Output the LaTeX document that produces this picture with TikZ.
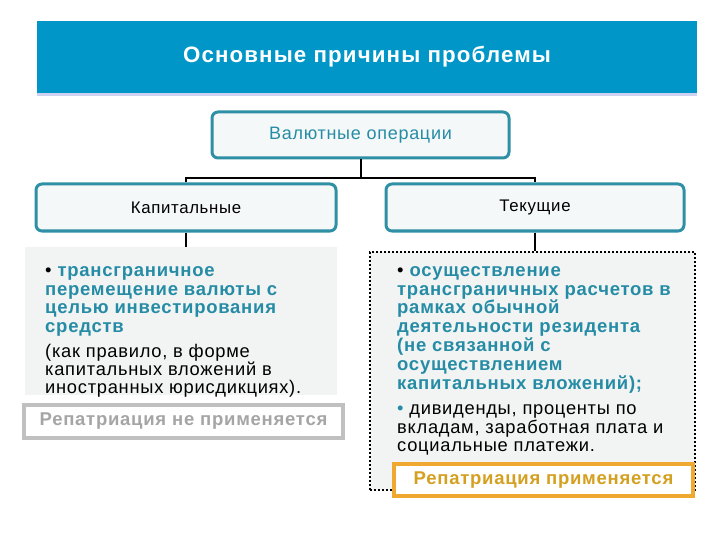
\documentclass[tikz,border=0pt]{standalone}
\usepackage{fontspec}
\setmainfont{Liberation Sans}
\newfontfamily\wide[LetterSpace=4]{Liberation Sans}
\newfontfamily\ttl[LetterSpace=5]{Liberation Sans}
\usetikzlibrary{positioning}
\definecolor{titleblue}{RGB}{0,150,200}
\definecolor{tealtxt}{RGB}{38,140,165}
\definecolor{tealborder}{RGB}{46,143,165}
\definecolor{boxfill}{RGB}{245,248,248}
\definecolor{graybg}{RGB}{242,244,244}
\definecolor{grayborder}{RGB}{192,192,192}
\definecolor{graytxt}{RGB}{165,165,165}
\definecolor{orangeborder}{RGB}{240,168,48}
\definecolor{goldtxt}{RGB}{212,160,32}
\tikzset{
  catbox/.style={draw=tealborder, line width=3pt, rounded corners=6pt, fill=boxfill, inner sep=0pt},
  conn/.style={draw=black, line width=2pt},
  bodytxt/.style={anchor=north west, align=left, inner sep=0pt, font=\wide\fontsize{18.5}{18.9}\selectfont},
}
\begin{document}
\begin{tikzpicture}[x=1pt,y=-1pt]
\useasboundingbox (0,0) rectangle (720,540);
% title
\fill[color={rgb,255:red,205;green,210;blue,240}] (37,90) rectangle (697,96);
\node[fill=titleblue, minimum width=660pt, minimum height=72pt, inner sep=0pt, text=white,
  font=\ttl\bfseries\fontsize{22.3}{24}\selectfont] (title) at (367,57) {Основные причины проблемы};
% top box
\node[catbox, minimum width=297pt, minimum height=46pt, text=tealtxt, font=\wide\fontsize{18}{18}\selectfont] (val) at (360.5,135) {Валютные операции};
\node[catbox, minimum width=300pt, minimum height=47pt, font=\wide\fontsize{16.8}{18}\selectfont] (kap) at (186,207.5) {Капитальные};
\node[catbox, minimum width=298pt, minimum height=47pt, font=\wide\fontsize{16.8}{18}\selectfont] (tek) at (535,207.5) {Текущие};
\coordinate (j) at (360.5,178);
\draw[conn] (val.south) -- (j);
\draw[conn] (kap.north) |- (j) -| (tek.north);
% left panel
\node[fill=graybg, minimum width=312pt, minimum height=148pt, inner sep=0pt] (lp) at (181,321) {};
\draw[conn] (kap.south) -- (kap.south |- lp.north);
\node[bodytxt, text=tealtxt] (lt1) at (45,266) {\textcolor{black}{\textbullet} \textbf{трансграничное}\\\textbf{перемещение валюты с}\\\textbf{целью инвестирования}\\\textbf{средств}};
\node[bodytxt, below=7pt of lt1.south west, anchor=north west, font=\wide\fontsize{18.3}{18.2}\selectfont] (lt2) {(как правило, в форме\\капитальных вложений в\\иностранных юрисдикциях).};
\node[draw=grayborder, line width=4pt, fill=white, minimum width=319pt, minimum height=33pt, inner sep=0pt, text=graytxt, font=\wide\bfseries\fontsize{18.5}{18}\selectfont] (lrep) at (183.5,421.5) {Репатриация не применяется};
% right panel
\node[fill=graybg, draw=black, line width=2.5pt, dash pattern=on 2pt off 2pt, minimum width=325pt, minimum height=238pt, inner sep=0pt] (rp) at (532.5,371) {};
\draw[conn] (tek.south) -- (tek.south |- rp.north);
\node[bodytxt, text=tealtxt] (rt1) at (397,266) {\textcolor{black}{\textbullet} \textbf{осуществление}\\\textbf{трансграничных расчетов в}\\\textbf{рамках обычной}\\\textbf{деятельности резидента}\\\textbf{(не связанной с}\\\textbf{осуществлением}\\\textbf{капитальных вложений);}};
\node[bodytxt, below=11pt of rt1.south west, anchor=north west, font=\wide\fontsize{18.3}{18.6}\selectfont] (rt2) {{\color{tealtxt}\textbullet} дивиденды, проценты по\\вкладам, заработная плата и\\социальные платежи.};
\node[draw=orangeborder, line width=4pt, fill=white, minimum width=299pt, minimum height=32pt, inner sep=0pt, text=goldtxt, font=\wide\bfseries\fontsize{18.5}{18}\selectfont] (rrep) at (543.5,480) {Репатриация применяется};
\end{tikzpicture}
\end{document}
